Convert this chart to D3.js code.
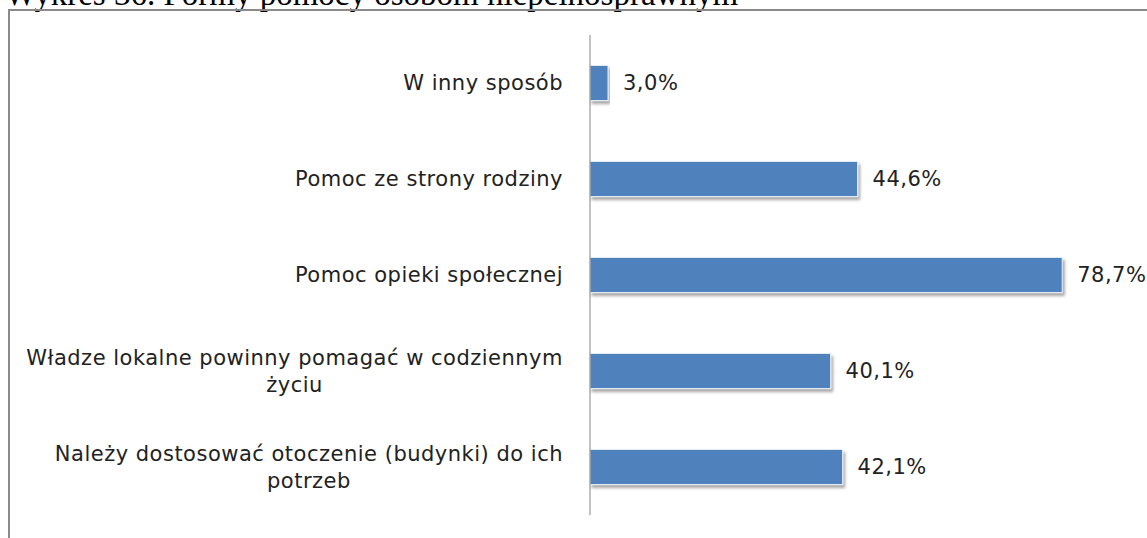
<!DOCTYPE html>
<html>
<head>
<meta charset="utf-8">
<script src="https://cdn.jsdelivr.net/npm/d3@7"></script>
<style>
  html, body { margin: 0; padding: 0; background: #fff; }
  svg { display: block; }
</style>
</head>
<body>
<svg id="chart" width="1147" height="538"></svg>
<script>
"use strict";

/* ── Data ─────────────────────────────────────────────── */
const categories = [
  "W inny sposób",
  "Pomoc ze strony rodziny",
  "Pomoc opieki społecznej",
  "Władze lokalne powinny pomagać w codziennym|życiu",
  "Należy dostosować otoczenie (budynki) do ich|potrzeb"
];
const values = [3.0, 44.6, 78.7, 40.1, 42.1];
const titleText = "Wykres 36. Formy pomocy osobom niepełnosprawnym";

/* ── Layout ───────────────────────────────────────────── */
const W = 1147, H = 538;
const AXIS_X = 590;
const PLOT = { top: 35, bottom: 515 };
const LABEL_FONT = "'DejaVu Sans', Verdana, sans-serif";
const LABEL_SIZE = 21;
const LABEL_SPACING = 0.5;

const svg = d3.select("#chart");

/* Drop shadow for bars */
const defs = svg.append("defs");
const f = defs.append("filter").attr("id", "shadow")
  .attr("x", "-5%").attr("y", "-20%").attr("width", "115%").attr("height", "160%");
f.append("feDropShadow")
  .attr("dx", 2).attr("dy", 3).attr("stdDeviation", 1.6)
  .attr("flood-color", "#000").attr("flood-opacity", 0.35);

/* Title (mostly cut off at the top, as in the source page) */
svg.append("text")
  .attr("x", 5).attr("y", 5)
  .attr("font-family", "'Liberation Serif', 'Times New Roman', serif")
  .attr("font-size", 33)
  .attr("fill", "#000")
  .text(titleText);

/* Chart frame */
svg.append("rect")
  .attr("x", 9).attr("y", 10)
  .attr("width", W + 20).attr("height", H + 20)
  .attr("fill", "none")
  .attr("stroke", "#8a8a8a")
  .attr("stroke-width", 2);

/* Scales */
const x = d3.scaleLinear().domain([0, 80]).range([AXIS_X, AXIS_X + 480]);
const y = d3.scaleBand()
  .domain(categories)
  .range([PLOT.top, PLOT.bottom])
  .paddingInner(0.635)
  .paddingOuter(0.3175);

/* Bars */
svg.append("g").selectAll("rect")
  .data(categories)
  .join("rect")
  .attr("x", x(0))
  .attr("y", (d) => y(d))
  .attr("width", (d, i) => x(values[i]) - x(0))
  .attr("height", y.bandwidth())
  .attr("fill", "#4f81bd")
  .attr("stroke", "#e4ecf5")
  .attr("stroke-width", 1)
  .attr("filter", "url(#shadow)");

/* Value labels */
svg.append("g").selectAll("text")
  .data(categories)
  .join("text")
  .attr("x", (d, i) => x(values[i]) + 15)
  .attr("y", (d) => y(d) + y.bandwidth() / 2)
  .attr("dy", "0.35em")
  .attr("font-family", LABEL_FONT)
  .attr("font-size", LABEL_SIZE)
  .attr("letter-spacing", LABEL_SPACING)
  .attr("fill", "#222")
  .text((d, i) => values[i].toFixed(1).replace(".", ",") + "%");

/* Category axis line */
svg.append("line")
  .attr("x1", AXIS_X).attr("x2", AXIS_X)
  .attr("y1", PLOT.top).attr("y2", PLOT.bottom)
  .attr("stroke", "#868686")
  .attr("stroke-width", 1);

/* Category labels: right-aligned block, lines centered inside */
const LABEL_RIGHT = 563;
const LINE_H = 27;
const labelG = svg.append("g");
categories.forEach((c) => {
  const lines = c.split("|");
  const cy = y(c) + y.bandwidth() / 2;
  const g = labelG.append("g");
  const texts = lines.map((ln, k) =>
    g.append("text")
      .attr("y", cy + (k - (lines.length - 1) / 2) * LINE_H)
      .attr("dy", "0.35em")
      .attr("text-anchor", "middle")
      .attr("font-family", LABEL_FONT)
      .attr("font-size", LABEL_SIZE)
      .attr("letter-spacing", LABEL_SPACING)
      .attr("fill", "#222")
      .text(ln)
  );
  const maxW = d3.max(texts, (t) => t.node().getComputedTextLength());
  texts.forEach((t) => t.attr("x", LABEL_RIGHT - maxW / 2));
});
</script>
</body>
</html>
